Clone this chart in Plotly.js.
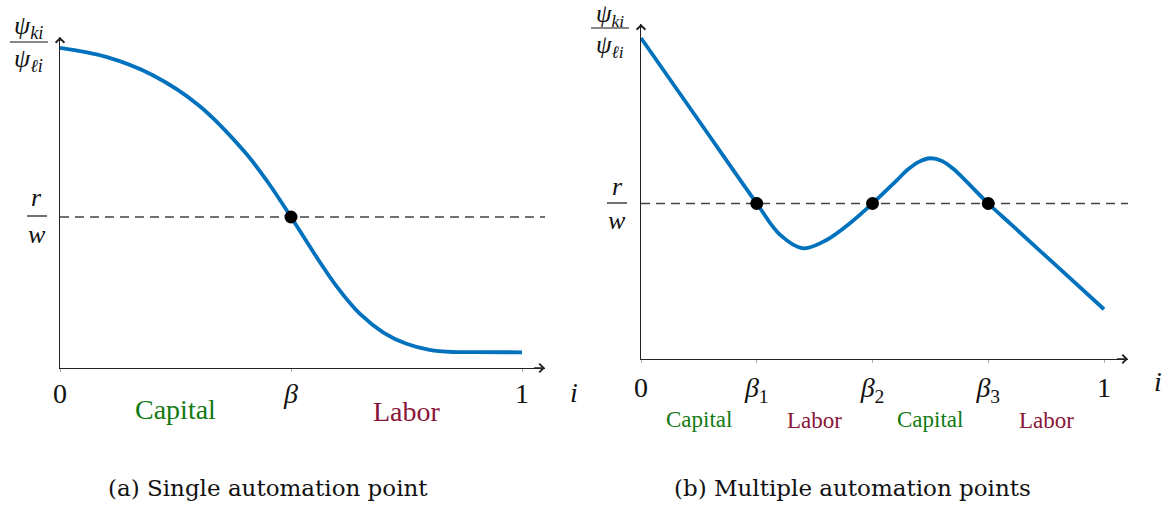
<!DOCTYPE html>
<html>
<head>
<meta charset="utf-8">
<script src="https://cdn.plot.ly/plotly-3.0.1.min.js"></script>
<style>
  html, body { margin:0; padding:0; background:#fff; }
  #chart { width:1174px; height:507px; }
</style>
</head>
<body>
<div id="chart"></div>
<script>
// ---------- Data ----------
// y is psi_k/psi_l measured in units of r/w (so the dashed level is 1)
const singleX = [0, 0.1, 0.2, 0.3, 0.4, 0.45, 0.5, 0.55, 0.6, 0.65, 0.7, 0.75, 0.8, 0.85, 0.9, 1.0];
const singleY = [2.12, 2.06, 1.94, 1.74, 1.43, 1.23, 1.0, 0.76, 0.536, 0.356, 0.235, 0.16, 0.12, 0.106, 0.105, 0.104];
const singleCuts = [0.5];
const singleTickVals = [0, 0.5, 1];
const singleTickText = ['0', '<i>β</i>', '1'];

const multiX = [0, 0.125, 0.25, 0.3, 0.35, 0.4, 0.45, 0.5, 0.55, 0.575, 0.6, 0.625, 0.65, 0.675, 0.7, 0.75, 0.8, 0.9, 1.0];
const multiY = [2.064, 1.532, 1.0, 0.80, 0.712, 0.764, 0.87, 1.0, 1.142, 1.215, 1.268, 1.291, 1.274, 1.222, 1.15, 1.0, 0.864, 0.592, 0.32];
const multiCuts = [0.25, 0.5, 0.75];
const multiTickVals = [0, 0.25, 0.5, 0.75, 1];
const multiTickText = ['0', '<i>β</i><sub>1</sub>', '<i>β</i><sub>2</sub>', '<i>β</i><sub>3</sub>', '1'];

const rOverW = 1;
const regionNames = ['Capital', 'Labor'];
const captions = ['(a) Single automation point', '(b) Multiple automation points'];

// ---------- Layout helpers ----------
const W = 1174, H = 507;
const BLUE = '#0072bd', GREEN = '#137a13', MAROON = '#8a1538', AXIS = '#222';
const MATH = 'Liberation Serif, Times New Roman, serif';
const px = v => v / W;          // x pixel -> paper
const py = v => (H - v) / H;    // y pixel -> paper

// panel geometry: pixel of value 0 and value 1 on each axis, and the arrow tips
const panels = [
  {x0:60, x1:522, xTip:545, y0:368, yUnit:151, yTip:37, xs:singleX, ys:singleY, cuts:singleCuts,
   tv:singleTickVals, tt:singleTickText, standoff:-3, regionSize:28, regionY:[409, 412], cap:268},
  {x0:641, x1:1104, xTip:1128, y0:359, yUnit:155.5, yTip:24, xs:multiX, ys:multiY, cuts:multiCuts,
   tv:multiTickVals, tt:multiTickText, standoff:0, regionSize:23, regionY:[419, 420], cap:852}
];

const traces = [];
const annotations = [];
const shapes = [];
const layout = {
  width:W, height:H, margin:{l:0, r:0, t:0, b:0},
  paper_bgcolor:'#fff', plot_bgcolor:'rgba(0,0,0,0)',
  showlegend:false, hovermode:false
};

panels.forEach((p, k) => {
  const xa = k === 0 ? 'x' : 'x2', ya = k === 0 ? 'y' : 'y2';
  const xKey = k === 0 ? 'xaxis' : 'xaxis2', yKey = k === 0 ? 'yaxis' : 'yaxis2';
  const xMax = (p.xTip - p.x0) / (p.x1 - p.x0);
  const yMax = (p.y0 - p.yTip) / p.yUnit;

  layout[xKey] = {
    domain:[px(p.x0), px(p.xTip)], range:[0, xMax], anchor:ya,
    showgrid:false, zeroline:false, showline:true, linecolor:AXIS, linewidth:1.3,
    tickmode:'array', tickvals:p.tv, ticktext:p.tt, ticks:'outside', ticklen:3,
    tickcolor:'#aaa', tickwidth:1, ticklabelstandoff:p.standoff,
    tickfont:{family:MATH, size:28, color:'#111'}
  };
  layout[yKey] = {
    domain:[py(p.y0), py(p.yTip)], range:[0, yMax], anchor:xa,
    showgrid:false, zeroline:false, showline:true, linecolor:AXIS, linewidth:1.3,
    showticklabels:false, ticks:''
  };

  // dashed r/w level
  traces.push({x:[0, xMax], y:[rOverW, rOverW], xaxis:xa, yaxis:ya, mode:'lines',
    line:{color:'#444', width:1.3, dash:'9px,6px'}});
  // curve
  traces.push({x:p.xs, y:p.ys, xaxis:xa, yaxis:ya, mode:'lines',
    line:{color:BLUE, width:3.8, shape:'spline', smoothing:1}});
  // automation points
  traces.push({x:p.cuts, y:p.cuts.map(() => rOverW), xaxis:xa, yaxis:ya, mode:'markers',
    marker:{color:'#000', size:13}});

  // arrow heads
  annotations.push({xref:xa, yref:ya, x:xMax, y:0, ax:-14, ay:0, text:' ', showarrow:true,
    arrowhead:4, arrowsize:1.3, arrowwidth:1.3, arrowcolor:AXIS});
  annotations.push({xref:xa, yref:ya, x:0, y:yMax, ax:0, ay:14, text:' ', showarrow:true,
    arrowhead:4, arrowsize:1.3, arrowwidth:1.3, arrowcolor:AXIS});

  // region labels: midpoints between consecutive cut-offs
  const edges = [0, ...p.cuts, 1];
  for (let i = 0; i < edges.length - 1; i++) {
    const isCap = i % 2 === 0;
    annotations.push({xref:xa, yref:'paper', x:(edges[i] + edges[i+1]) / 2,
      y:py(p.regionY[isCap ? 0 : 1]), text:regionNames[isCap ? 0 : 1], showarrow:false,
      xanchor:'center', yanchor:'middle',
      font:{family:MATH, size:p.regionSize, color:isCap ? GREEN : MAROON}});
  }

  // caption
  annotations.push({xref:'paper', yref:'paper', x:px(p.cap), y:py(488), text:captions[k],
    showarrow:false, xanchor:'center', yanchor:'middle',
    font:{family:'DejaVu Serif, serif', size:23, color:'#111'}});
});

// axis titles / fraction labels (text only)
function fraction(cx, yNum, yBar, yDen, halfW, num, den, size) {
  annotations.push({xref:'paper', yref:'paper', x:px(cx), y:py(yNum), text:num, showarrow:false,
    xanchor:'center', yanchor:'middle', font:{family:MATH, size:size, color:'#111'}});
  annotations.push({xref:'paper', yref:'paper', x:px(cx), y:py(yDen), text:den, showarrow:false,
    xanchor:'center', yanchor:'middle', font:{family:MATH, size:size, color:'#111'}});
  shapes.push({type:'line', xref:'paper', yref:'paper', x0:px(cx - halfW), x1:px(cx + halfW),
    y0:py(yBar), y1:py(yBar), line:{color:'#111', width:1.2}});
}
const psiNum = '<i>ψ</i><sub><i>ki</i></sub>';
const psiDen = '<i>ψ</i><sub><i>ℓi</i></sub>';
fraction(29, 27, 42, 60, 19, psiNum, psiDen, 26);
fraction(37, 197, 216, 234, 10, '<i>r</i>', '<i>w</i>', 26);
fraction(610, 15, 28, 46, 19, psiNum, psiDen, 25);
fraction(617, 186, 203, 220, 10, '<i>r</i>', '<i>w</i>', 26);

annotations.push({xref:'paper', yref:'paper', x:px(574), y:py(392), text:'<i>i</i>', showarrow:false,
  xanchor:'center', yanchor:'middle', font:{family:MATH, size:28, color:'#111'}});
annotations.push({xref:'paper', yref:'paper', x:px(1158), y:py(381), text:'<i>i</i>', showarrow:false,
  xanchor:'center', yanchor:'middle', font:{family:MATH, size:28, color:'#111'}});

layout.annotations = annotations;
layout.shapes = shapes;

Plotly.newPlot('chart', traces, layout, {staticPlot:true, displayModeBar:false});
</script>
</body>
</html>
